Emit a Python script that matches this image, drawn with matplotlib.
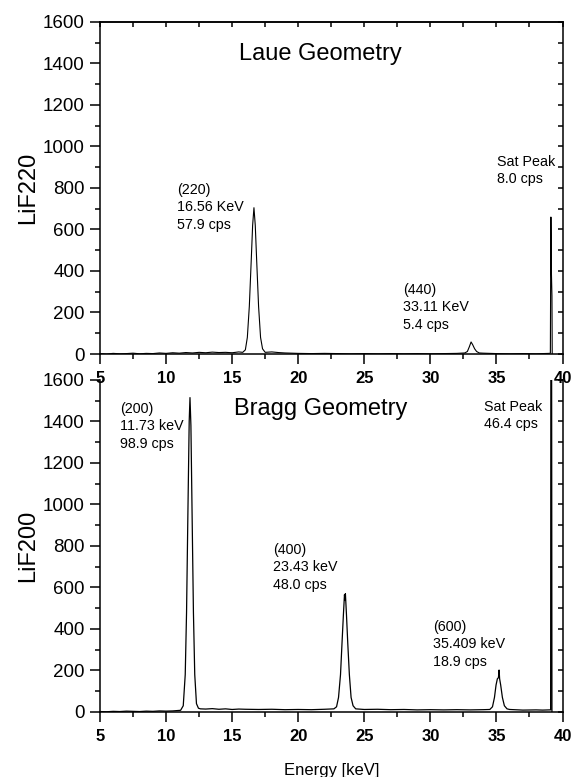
import matplotlib
matplotlib.use("Agg")
import matplotlib.pyplot as plt
from matplotlib.ticker import MultipleLocator

plt.rcParams["font.family"] = ["Liberation Sans", "DejaVu Sans"]

# --- data ----------------------------------------------------------------
laue_energy = [5.0, 5.5, 6.0, 6.5, 7.0, 7.5, 8.0, 8.5, 9.0, 9.5, 10.0, 10.5,
               11.0, 11.5, 12.0, 12.5, 13.0, 13.5, 14.0, 14.5, 15.0, 15.5,
               15.8, 16.0, 16.15, 16.3, 16.45, 16.55, 16.65, 16.75, 16.85,
               17.0, 17.15, 17.3, 17.5, 18.0, 18.5, 19.0, 19.5, 20.0, 21.0,
               22.0, 23.0, 24.0, 25.0, 26.0, 27.0, 28.0, 29.0, 30.0, 31.0,
               32.0, 32.6, 32.8, 32.95, 33.08, 33.2, 33.35, 33.5, 33.7, 34.0,
               35.0, 36.0, 37.0, 38.0, 38.5, 39.0, 39.08, 39.12, 39.16, 39.2,
               39.22]
laue_counts = [2, 0, 3, 1, 2, 4, 1, 3, 2, 5, 3, 6,
               4, 7, 5, 8, 6, 9, 7, 8, 6, 10,
               8, 20, 80, 230, 460, 620, 705, 620, 460,
               230, 80, 25, 8, 10, 7, 5, 4, 3, 2,
               3, 2, 1, 2, 1, 2, 1, 2, 1, 2,
               3, 5, 12, 35, 58, 45, 25, 12, 5, 4,
               2, 1, 2, 1, 2, 3, 4, 660, 390, 280,
               2]

bragg_energy = [5.0, 5.5, 6.0, 6.5, 7.0, 7.5, 8.0, 8.5, 9.0, 9.5, 10.0, 10.5,
                11.1, 11.3, 11.45, 11.55, 11.65, 11.75, 11.81, 11.88, 11.97,
                12.07, 12.17, 12.3, 12.45, 12.6, 13.0, 13.5, 14.0, 14.5, 15.0,
                15.5, 16.0, 17.0, 18.0, 19.0, 20.0, 21.0, 22.0, 22.7, 22.9,
                23.05, 23.2, 23.32, 23.42, 23.5, 23.54, 23.57, 23.65, 23.75,
                23.87, 24.0, 24.15, 24.35, 25.0, 26.0, 27.0, 28.0, 29.0, 30.0,
                31.0, 32.0, 33.0, 34.0, 34.5, 34.7, 34.85, 34.97, 35.07, 35.15,
                35.2, 35.24, 35.32, 35.45, 35.6, 35.8, 36.0, 37.0, 38.0, 38.5,
                39.0, 39.1, 39.12, 39.17, 39.2]
bragg_counts = [2, 1, 3, 2, 4, 3, 2, 4, 3, 5, 4, 5,
                8, 30, 180, 480, 950, 1400, 1515, 1380, 950,
                480, 180, 40, 18, 15, 14, 16, 13, 15, 12,
                14, 13, 12, 13, 11, 12, 11, 13, 15, 25,
                70, 180, 340, 470, 565, 540, 570, 470, 330,
                180, 70, 30, 15, 12, 13, 11, 12, 10, 11,
                10, 11, 10, 11, 12, 25, 70, 130, 160, 165,
                202, 160, 130, 70, 30, 15, 12, 9, 10, 9,
                10, 10, 2000, 2000, 0]

laue_notes = [(10.83, 824, "(220)\n16.56 KeV\n57.9 cps"),
              (27.94, 342, "(440)\n33.11 KeV\n5.4 cps"),
              (35.05, 959, "Sat Peak\n8.0 cps")]
bragg_notes = [(6.51, 1494, "(200)\n11.73 keV\n98.9 cps"),
               (18.1, 814, "(400)\n23.43 keV\n48.0 cps"),
               (30.2, 443, "(600)\n35.409 keV\n18.9 cps"),
               (34.07, 1504, "Sat Peak\n46.4 cps")]

fig = plt.figure(figsize=(5.76, 7.77), dpi=100)
ax_bot = fig.add_axes([0.1736, 0.0837, 0.803, 0.4273])
ax_top = fig.add_axes([0.1736, 0.5444, 0.803, 0.4273])
ax_bot.patch.set_visible(False)
ax_top.set_zorder(3)


def style(ax, top_spine=True):
    ax.set_xlim(5, 40)
    ax.set_ylim(0, 1600)
    ax.xaxis.set_major_locator(MultipleLocator(5))
    ax.xaxis.set_minor_locator(MultipleLocator(2.5))
    ax.yaxis.set_major_locator(MultipleLocator(200))
    ax.yaxis.set_minor_locator(MultipleLocator(100))
    ax.tick_params(which="major", direction="out", length=7, width=1.1,
                   labelsize=13.5, pad=4)
    ax.tick_params(which="minor", direction="out", length=3.5, width=1.1)
    ax.tick_params(axis="x", which="major", labelsize=12, pad=5)
    for lab in ax.get_xticklabels():
        lab.set_fontweight("bold")
    for s in ax.spines.values():
        s.set_linewidth(1.1)
    # right side: inward ticks without labels
    sec_y = ax.secondary_yaxis("right")
    sec_y.yaxis.set_major_locator(MultipleLocator(100))
    sec_y.tick_params(direction="in", length=3.5, width=1.1, labelright=False)
    sec_y.spines["right"].set_linewidth(1.1)
    if top_spine:
        sec_x = ax.secondary_xaxis("top")
        sec_x.xaxis.set_major_locator(MultipleLocator(2.5))
        sec_x.tick_params(direction="in", length=3.5, width=1.1, labeltop=False)
        sec_x.spines["top"].set_linewidth(1.1)
    else:
        ax.spines["top"].set_visible(False)
    ax.spines["right"].set_visible(False)


ax_top.plot(laue_energy, laue_counts, color="black", lw=0.8)
style(ax_top)
ax_top.set_ylabel("LiF220", fontsize=17, labelpad=3)
ax_top.text(21.65, 1417, "Laue Geometry", fontsize=17, ha="center",
            va="baseline")
for x, y, t in laue_notes:
    ax_top.text(x, y, t, fontsize=10.3, ha="left", va="top", linespacing=1.3)

ax_bot.plot(bragg_energy, bragg_counts, color="black", lw=0.9)
style(ax_bot, top_spine=False)
ax_bot.set_ylabel("LiF200", fontsize=17, labelpad=3)
ax_bot.set_xlabel("Energy [keV]", fontsize=12, labelpad=14)
ax_bot.text(21.73, 1431, "Bragg Geometry", fontsize=17, ha="center",
            va="baseline")
for x, y, t in bragg_notes:
    ax_bot.text(x, y, t, fontsize=10.3, ha="left", va="top", linespacing=1.3)

fig.savefig("out.png", dpi=100)
